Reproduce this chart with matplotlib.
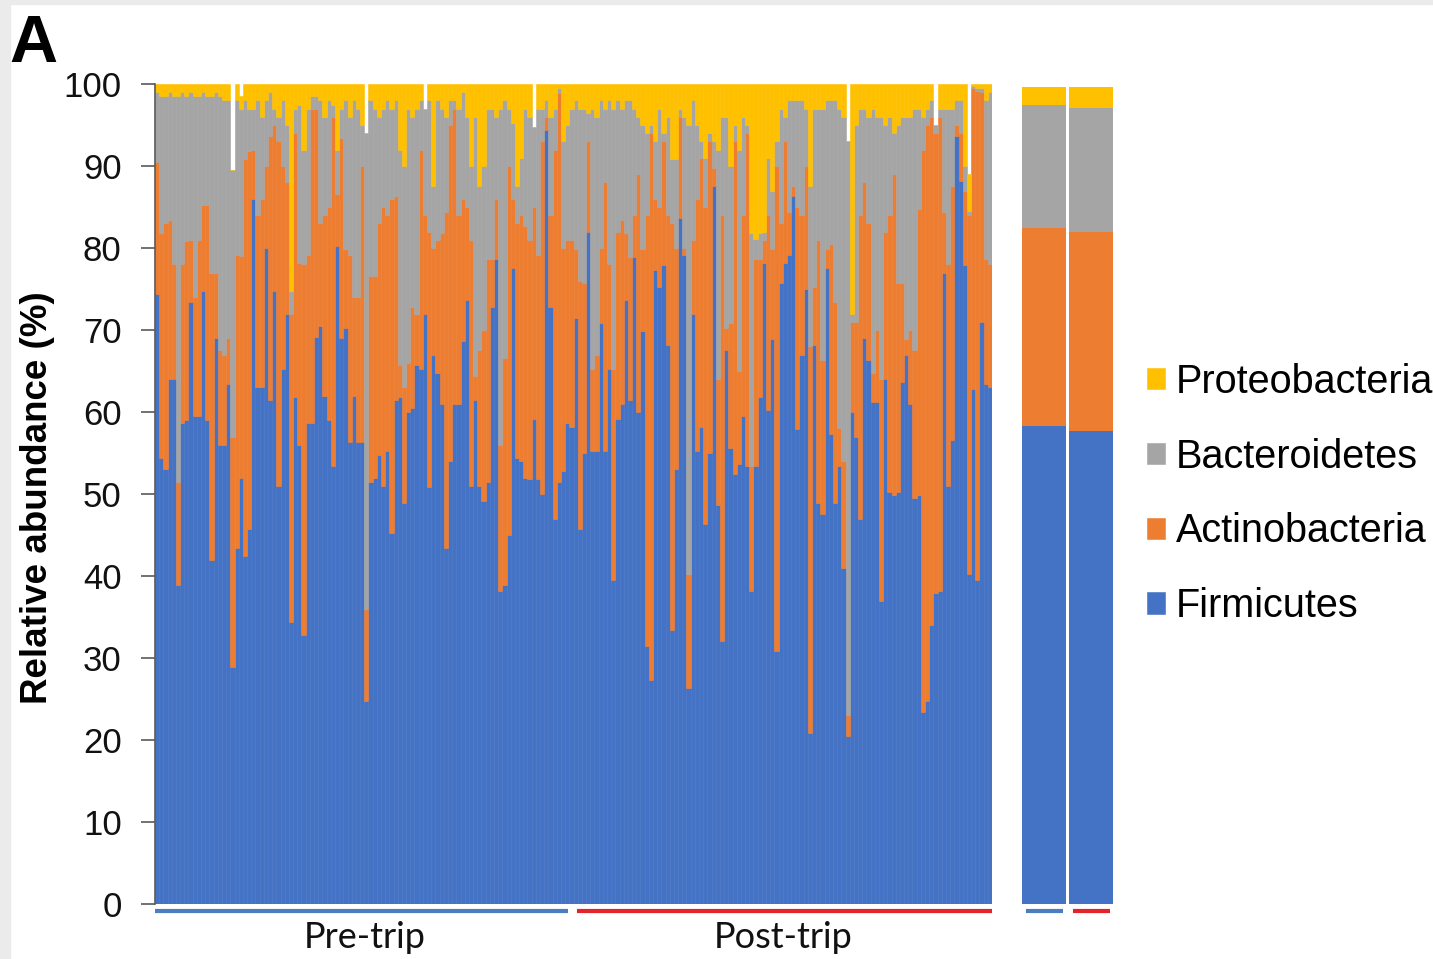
"""Stacked phylum abundance per sample, pre-trip vs post-trip, with group means."""

import matplotlib

matplotlib.use("Agg")
import matplotlib.pyplot as plt
import matplotlib.transforms as mtransforms
import numpy as np
from matplotlib.patches import Rectangle

BLUE = "#4472C4"
ORANGE = "#ED7D31"
GRAY = "#A5A5A5"
YELLOW = "#FFC000"

phyla = ["Firmicutes", "Actinobacteria", "Bacteroidetes", "Proteobacteria"]
groups = ["Pre-trip", "Post-trip"]

# cumulative tops (%), one value per sample
pre_firm_top = [
    74.4, 54.4, 53, 64, 64, 38.9, 58.6, 59, 73.4, 59.5,
    59.5, 74.7, 59, 42, 69, 56, 56, 63.4, 28.9, 43.4,
    52, 42.4, 45.7, 86, 63, 63, 80, 61.5, 74.7, 51,
    65.3, 72, 34.4, 61.8, 56, 32.8, 58.6, 58.6, 69.2, 70.5,
    62, 59, 53.4, 80.2, 69, 70.2, 56.3, 62, 56.3, 56.3,
    24.7, 51.5, 52, 54.7, 51, 55.3, 45.3, 61.5, 61.8, 48.9,
    60, 60.5, 65.7, 65.3, 72, 50.8, 67, 64.7, 61, 43.4,
    54, 61, 61, 68.6, 73.7, 51, 61.5, 51, 49.2, 51.5,
    72.8, 78.6, 38.2, 38.9, 45, 77.6, 54.4, 54, 52, 51.8,
    59.2, 51.8, 50, 94.4, 72.8, 47, 51.5, 52.8, 58.6, 58.2,
]
pre_act_top = [
    90.5, 81.8, 83, 83.4, 78, 51.5, 78, 80.8, 81, 74,
    81, 85.3, 85.3, 77, 77, 67.6, 67, 69, 57, 79.2,
    79, 90.8, 91.8, 92, 84, 86, 90, 93.7, 95, 93,
    90, 88, 72, 94, 78.2, 78, 79.2, 97, 97, 83,
    84, 85, 96, 86.6, 93.4, 79.9, 79.2, 74, 74, 90,
    36, 76.6, 76.6, 83, 85, 84, 86, 86.3, 65.7, 63,
    66, 72.8, 72, 92, 84, 82, 80, 81, 81.8, 84.4,
    95, 97, 84, 86, 85, 81, 64.4, 67.6, 70, 78.6,
    78.6, 86, 56, 66.6, 90, 86, 83, 84, 82.7, 81,
    85, 79.2, 93, 96, 84, 92, 98.9, 80, 81, 81,
]
pre_bac_top = [
    99, 98.5, 98.5, 99, 98.5, 98.5, 99, 98.5, 99, 98.5,
    98.5, 99, 98.5, 98.5, 99, 98.5, 98, 98, 89.5, 98,
    97, 98, 97, 97, 98, 96, 98, 99, 97, 96,
    98, 95, 74.7, 97, 97.5, 92, 97, 98.5, 98.5, 98,
    96, 98, 97.5, 92, 97, 98, 96, 98, 97, 95,
    94, 98, 97, 96, 97, 98, 97, 98, 92, 90,
    97, 96, 97, 98, 97, 98, 87.6, 98, 97, 96,
    98, 98, 97, 99, 96, 90, 96, 87.6, 90, 97,
    97, 96, 97, 98, 97, 95.3, 87.6, 91, 97, 96,
    94.7, 97, 97, 98, 96, 97, 99.5, 93, 95, 97,
]
pre_total = [
    100, 100, 100, 100, 100, 100, 100, 100, 100, 100,
    100, 100, 100, 100, 100, 100, 100, 100, 89.5, 100,
    98.5, 100, 100, 100, 100, 100, 100, 100, 100, 100,
    100, 100, 100, 100, 100, 100, 100, 100, 100, 100,
    100, 100, 100, 100, 100, 100, 100, 100, 100, 100,
    94, 100, 100, 100, 100, 100, 100, 100, 100, 100,
    100, 100, 100, 100, 97, 100, 100, 100, 100, 100,
    100, 100, 100, 100, 100, 100, 100, 100, 100, 100,
    100, 100, 100, 100, 100, 100, 100, 100, 100, 100,
    94.7, 100, 100, 100, 100, 100, 100, 100, 100, 100,
]

post_firm_top = [
    71.5, 45.7, 55, 82, 55.3, 55.3, 70.8, 55.3, 65.3, 39.5,
    59.2, 61, 73.7, 61.5, 78.9, 60, 69.9, 31.5, 27.3, 77.3,
    75.3, 77.9, 68.2, 33.4, 53, 83.7, 79.2, 26.3, 72, 55.3,
    58.2, 46.3, 55, 87.6, 48.6, 32.1, 67.6, 55.6, 52.4, 53.7,
    59.5, 53.4, 38.2, 53.4, 61.8, 78.2, 60.2, 68.9, 30.8, 75.7,
    78.2, 79.2, 86.3, 57.9, 67, 75, 20.8, 68.2, 48.9, 47.6,
    77.6, 57.3, 48.9, 53.4, 41, 20.5, 60, 57, 47, 69,
    66.3, 61.2, 61.2, 37, 64, 50.2, 49.9, 50.2, 63.7, 67,
    61, 49.5, 49.9, 23.4, 24.7, 34, 37.9, 38.2, 77, 51,
    56.6, 93.7, 88.2, 77.9, 40.2, 62.8, 39.5, 71, 63.4, 63,
]
post_act_top = [
    79.9, 76, 75.7, 93, 65.3, 67, 80, 88, 78, 65.3,
    82, 83.4, 81.8, 78.9, 84, 89, 79.9, 84, 94, 86,
    85, 93, 84, 83, 80, 96, 80, 40.2, 81, 86,
    91, 85, 93, 89.8, 64, 84, 70.2, 70.8, 93, 65,
    84, 94, 53.4, 78.6, 78.6, 81, 84, 79.9, 90, 83,
    93, 84.4, 87.6, 85, 84, 90, 68, 75.3, 81, 66.3,
    79.9, 80.5, 73.4, 58, 54, 23, 71, 71, 84, 88,
    83, 64.7, 70, 64, 82, 84, 89, 75.7, 75.7, 68.9,
    70, 67.6, 84.7, 92, 95, 96, 94, 96, 84.4, 78,
    87.6, 95, 94, 87, 84, 99.5, 99.2, 99, 78.6, 78,
]
post_bac_top = [
    98, 97, 97, 96.5, 97, 96, 98, 97, 98, 97,
    98, 97, 98, 98, 97, 96, 95, 94, 95, 93,
    97, 94, 96, 90.8, 90.8, 97, 96, 95, 98, 95,
    93, 91, 94, 93, 92, 96, 96, 90, 95, 92,
    96, 95, 81.8, 81.1, 81.8, 82, 91, 87, 93, 97,
    96, 98, 98, 98, 98, 97, 87.6, 97, 97, 97,
    98, 98, 98, 97, 96, 93, 72, 95, 97, 97,
    96, 97, 96, 96, 95, 96, 94, 95, 96, 96,
    96, 97, 97, 96, 97, 98, 95, 97, 97, 97,
    97, 98, 98, 90, 84.5, 99.8, 99.5, 99.5, 98, 99,
]
post_total = [
    100, 100, 100, 100, 100, 100, 100, 100, 100, 100,
    100, 100, 100, 100, 100, 100, 100, 100, 100, 100,
    100, 100, 100, 100, 100, 100, 100, 100, 100, 100,
    100, 100, 100, 100, 100, 100, 100, 100, 100, 100,
    100, 100, 100, 100, 100, 100, 100, 100, 100, 100,
    100, 100, 100, 100, 100, 100, 100, 100, 100, 100,
    100, 100, 100, 100, 100, 93, 100, 100, 100, 100,
    100, 100, 100, 100, 100, 100, 100, 100, 100, 100,
    100, 100, 100, 100, 100, 100, 95, 100, 100, 100,
    100, 100, 100, 100, 89, 100, 100, 100, 100, 100,
]

# group means (%) per phylum, pre-trip / post-trip
mean_firmicutes = [58.3, 57.7]
mean_actinobacteria = [24.1, 24.2]
mean_bacteroidetes = [15.0, 15.2]
mean_proteobacteria = [2.2, 2.5]


def layers(firm_top, act_top, bac_top, total):
    tops = np.array([firm_top, act_top, bac_top, total], dtype=float)
    bottoms = np.vstack([np.zeros(tops.shape[1]), tops[:-1]])
    return tops - bottoms, bottoms


def main() -> None:
    plt.rcParams["font.family"] = ["Liberation Sans", "DejaVu Sans"]
    colors = [BLUE, ORANGE, GRAY, YELLOW]

    fig = plt.figure(figsize=(14.33, 9.59), dpi=100)
    fig.patches.append(Rectangle((0, 0), 10 / 1433, 1, transform=fig.transFigure,
                                 color="#ebebeb", zorder=-10))
    fig.patches.append(Rectangle((0, 1 - 4 / 959), 1, 4 / 959, transform=fig.transFigure,
                                 color="#ebebeb", zorder=-10))

    bottom = 1 - 904 / 959
    height = 820 / 959
    ax = fig.add_axes([155 / 1433, bottom, 837 / 1433, height])
    ax2 = fig.add_axes([1022 / 1433, bottom, 91 / 1433, height])

    firm_top = pre_firm_top + post_firm_top
    act_top = pre_act_top + post_act_top
    bac_top = pre_bac_top + post_bac_top
    total = pre_total + post_total
    n_pre = len(pre_firm_top)
    n = len(firm_top)
    x = np.arange(n)

    heights, bottoms = layers(firm_top, act_top, bac_top, total)
    handles = []
    for name, h, b, c in zip(phyla, heights, bottoms, colors):
        bars = ax.bar(x, h, bottom=b, width=1.0, color=c, edgecolor=c,
                      linewidth=0.4, label=name)
        handles.append(bars)

    ax.set_xlim(-0.5, n - 0.5)
    ax.set_ylim(0, 100)
    ax.set_yticks(np.arange(0, 101, 10))
    ax.set_xticks([])
    for side in ["top", "right", "bottom"]:
        ax.spines[side].set_visible(False)
    ax.spines["left"].set_color("#595959")
    ax.spines["left"].set_linewidth(1.2)
    ax.tick_params(axis="y", direction="out", length=10, width=1.2,
                   color="#595959", pad=14, labelsize=25, labelcolor="#111111")
    ax.set_ylabel("Relative abundance (%)", fontsize=26.5, fontweight="bold")
    ax.yaxis.set_label_coords(-0.12, 0.496)

    trans = mtransforms.blended_transform_factory(ax.transData, ax.transAxes)
    line_y = -0.0085
    ax.plot([-0.5, n_pre - 1.9], [line_y, line_y], color="#4a7ebf", lw=3,
            solid_capstyle="butt", transform=trans, clip_on=False)
    ax.plot([n_pre + 0.3, n - 0.5], [line_y, line_y], color="#e3242b", lw=3,
            solid_capstyle="butt", transform=trans, clip_on=False)
    ax.text((n_pre - 1) / 2, -0.0537, groups[0], transform=trans, ha="center",
            va="baseline", fontsize=26, family=["Lato", "DejaVu Sans"], color="#111111")
    ax.text(n_pre + (n - n_pre - 1) / 2, -0.0537, groups[1], transform=trans,
            ha="center", va="baseline", fontsize=26, family=["Lato", "DejaVu Sans"],
            color="#111111")

    # group means panel
    means = [mean_firmicutes, mean_actinobacteria, mean_bacteroidetes, mean_proteobacteria]
    gx = np.arange(len(groups))
    base = np.zeros(len(groups))
    for vals, c in zip(means, colors):
        ax2.bar(gx, vals, bottom=base, width=0.92, color=c, linewidth=0)
        base = base + np.array(vals)
    ax2.set_xlim(-0.46, len(groups) - 0.54)
    ax2.set_ylim(0, 100)
    ax2.axis("off")
    trans2 = mtransforms.blended_transform_factory(ax2.transData, ax2.transAxes)
    for i, c in enumerate(["#4a7ebf", "#e3242b"]):
        ax2.plot([i - 0.38, i + 0.4], [line_y, line_y], color=c, lw=3,
                 solid_capstyle="butt", transform=trans2, clip_on=False)

    fig.legend(handles[::-1], phyla[::-1], loc="center left",
               bbox_to_anchor=(1147 / 1433, 1 - 494 / 959), frameon=False,
               fontsize=28.5, handlelength=0.45, handleheight=0.45, handletextpad=0.28,
               labelspacing=0.93, borderpad=0, borderaxespad=0)

    fig.text(9 / 1433, 1 - 62 / 959, "A", fontsize=48, fontweight="bold",
             va="baseline", ha="left")

    fig.savefig("out.png", dpi=100)
    plt.close(fig)


if __name__ == "__main__":
    main()
